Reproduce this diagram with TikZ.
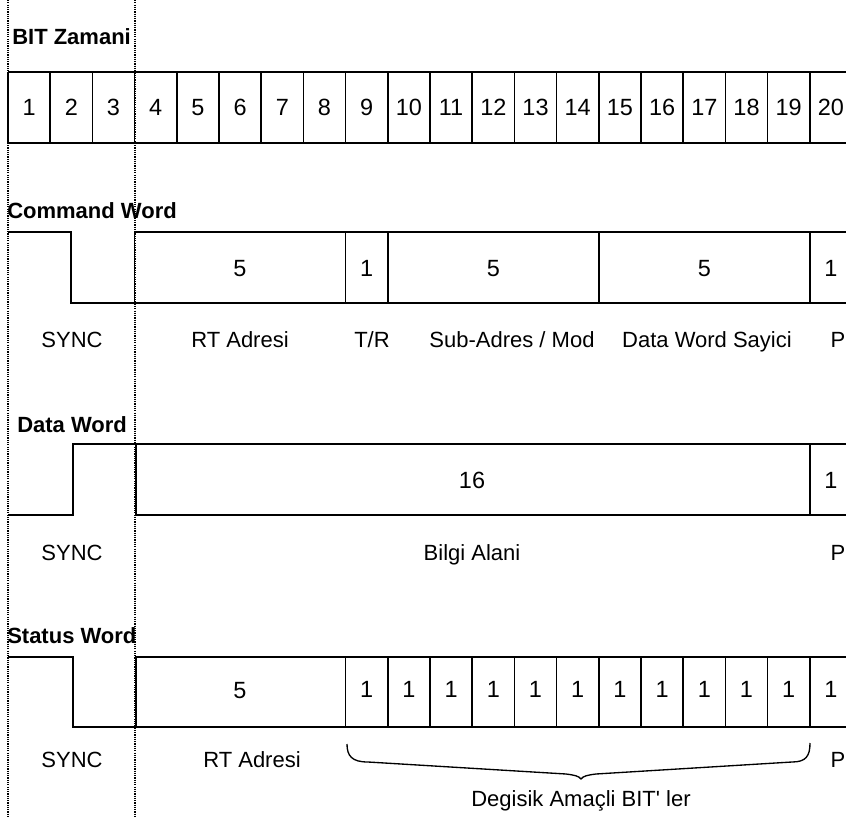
\documentclass[tikz,border=0pt]{standalone}
\usepackage{fontspec}
\setmainfont{Liberation Sans}
\begin{document}
\begin{tikzpicture}[x=0.75pt,y=-0.75pt,
  sig/.style={line width=1.3pt, line join=miter},
  guide/.style={line width=1.5pt, dash pattern=on 0.9pt off 0.8pt},
  txt/.style={inner sep=0pt, anchor=base, font=\fontsize{16.5}{19}\selectfont},
  num/.style={inner sep=0pt, anchor=base, font=\fontsize{17.6}{20}\selectfont},
  ttl/.style={inner sep=0pt, anchor=base west, font=\fontsize{16.5}{19}\selectfont\bfseries}]
\useasboundingbox (0,0) rectangle (846,817);
% guide lines
\coordinate (g1t) at (8,0);
\coordinate (g1b) at (8,817);
\coordinate (g2t) at (134.6,0);
\coordinate (g2b) at (134.6,817);
\draw[guide] (g1t) -- (g1b);
\draw[guide] (g2t) -- (g2b);
% BIT Zamani
\node[ttl] (tbit) at (12,45) {BIT Zamani};
\draw[sig] (8,72) -- (846,72) (8,143) -- (846,143);
\foreach \i in {1,...,20}{
  \pgfmathsetmacro\xa{8+(\i-1)*42.2}
  \draw[sig] (\xa,72) -- (\xa,143);
  \node[num] (bit\i) at (\xa+21.1,115) {\i};
}
% Command Word
\node[ttl] (tcmd) at (7,218) {Command Word};
\draw[sig] (8,232) -- (71,232) -- (71,303) -- (134.6,303) -- (134.6,232) -- (846,232)
  (134.6,303) -- (846,303);
\foreach \xa in {345.6,387.8,598.8,809.8}{\draw[sig] (\xa,232) -- (\xa,303);}
\node[num] (c1) at (240,276) {5};
\node[num] (c2) at (366.7,276) {1};
\node[num] (c3) at (493.3,276) {5};
\node[num] (c4) at (704.3,276) {5};
\node[num] (c5) at (830.9,276) {1};
\node[txt] (cl0) at (72,347) {SYNC};
\node[txt] (cl1) at (240,347) {RT Adresi};
\node[txt] (cl2) at (372,347) {T/R};
\node[txt] (cl3) at (512,347) {Sub-Adres / Mod};
\node[txt] (cl4) at (707,347) {Data Word Sayici};
\node[txt] (cl5) at (838,347) {P};
% Data Word
\node[ttl] (tdata) at (17,432) {Data Word};
\draw[sig] (8,515) -- (73,515) -- (73,444) -- (136,444) -- (136,515) -- (846,515)
  (136,444) -- (846,444);
\draw[sig] (809.8,444) -- (809.8,515);
\node[num] (d1) at (472,488) {16};
\node[num] (d2) at (830.9,488) {1};
\node[txt] (dl0) at (72,560) {SYNC};
\node[txt] (dl1) at (472,560) {Bilgi Alani};
\node[txt] (dl2) at (838,560) {P};
% Status Word
\node[ttl] (tstat) at (7,643) {Status Word};
\draw[sig] (8,657) -- (73,657) -- (73,727) -- (136,727) -- (136,657) -- (846,657)
  (136,727) -- (846,727);
\node[num] (s0) at (240,698) {5};
\foreach \i in {9,...,20}{
  \pgfmathsetmacro\xa{8+(\i-1)*42.2}
  \draw[sig] (\xa,657) -- (\xa,727);
  \node[num] (s\i) at (\xa+21.1,697) {1};
}
\node[txt] (sl0) at (72,767) {SYNC};
\node[txt] (sl1) at (252,767) {RT Adresi};
\node[txt] (sl2) at (838,767) {P};
% brace
\coordinate (bl) at (347,744);
\coordinate (br) at (810,743);
\coordinate (btip) at (581,779);
\draw[line width=1pt] (bl) .. controls (347,756) and (352,762) .. (368,762)
  -- (566,774) .. controls (574,775) and (579,776) .. (btip)
  .. controls (583,776) and (588,775) .. (596,774)
  -- (792,762) .. controls (806,762) and (810,756) .. (br);
\node[txt] (sbr) at (581,806) {Degisik Amaçli BIT\textquotesingle{} ler};
\end{tikzpicture}
\end{document}
